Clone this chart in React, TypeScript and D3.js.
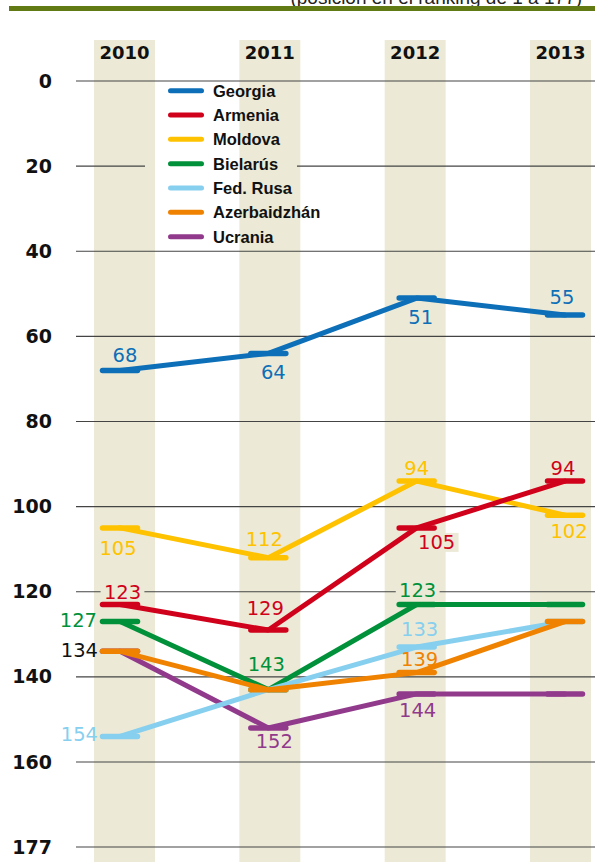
import React from 'react';
import * as d3 from 'd3';

const years = ['2010', '2011', '2012', '2013'];
const seriesNames = ['Georgia', 'Armenia', 'Moldova', 'Bielarús', 'Fed. Rusa', 'Azerbaidzhán', 'Ucrania'];
const seriesColors = ['#0d6fb8', '#d0021b', '#fec200', '#00913a', '#87cfef', '#ef8200', '#913a8c'];
const georgia = [68, 64, 51, 55];
const armenia = [123, 129, 105, 94];
const moldova = [105, 112, 94, 102];
const bielarus = [127, 143, 123, 123];
const rusia = [154, 143, 133, 127];
const azerbaidzhan = [134, 143, 139, 127];
const ucrania = [134, 152, 144, 144];
const seriesValues = [georgia, armenia, moldova, bielarus, rusia, azerbaidzhan, ucrania];
const drawOrder = [0, 2, 1, 6, 3, 4, 5];
const tickValues = [0, 20, 40, 60, 80, 100, 120, 140, 160, 177];
const tickLabels = ['0', '20', '40', '60', '80', '100', '120', '140', '160', '177'];
const subtitle = '(posición en el ranking de 1 a 177)';

// label placement: series index, year index, offsets from the point
const valueLabels = [
  { s: 0, i: 0, dx: 5, dy: -8 },
  { s: 0, i: 1, dx: 5, dy: 26 },
  { s: 0, i: 2, dx: 4, dy: 26 },
  { s: 0, i: 3, dx: -3, dy: -11 },
  { s: 1, i: 0, dx: 2.5, dy: -5.5 },
  { s: 1, i: 1, dx: -3, dy: -15 },
  { s: 1, i: 2, dx: 20, dy: 21 },
  { s: 1, i: 3, dx: -2, dy: -6 },
  { s: 2, i: 0, dx: -2, dy: 27 },
  { s: 2, i: 1, dx: -4, dy: -12 },
  { s: 2, i: 2, dx: 0, dy: -6 },
  { s: 2, i: 3, dx: 4, dy: 23 },
  { s: 3, i: 0, dx: -23, dy: 5, anchor: 'end' },
  { s: 3, i: 1, dx: -2, dy: -19 },
  { s: 3, i: 2, dx: 1, dy: -7.5 },
  { s: 4, i: 0, dx: -22, dy: 5, anchor: 'end' },
  { s: 4, i: 2, dx: 3, dy: -11 },
  { s: 5, i: 2, dx: 3, dy: -6.5 },
  { s: 5, i: 0, dx: -22, dy: 5.5, anchor: 'end', color: '#111111' },
  { s: 6, i: 1, dx: 6, dy: 20 },
  { s: 6, i: 2, dx: 1, dy: 23 },
];

const W = 595;
const H = 862;
const COL_FILL = '#ecead6';
const DIGIT_FONT = '"DejaVu Sans", sans-serif';
const TEXT_FONT = '"Liberation Sans", Arial, sans-serif';

export default function App() {
  const y = d3.scaleLinear().domain([0, 160, 177]).range([81, 762, 847]);
  const xCol = d3.scalePoint<string>().domain(years).range([124.5, 560.5]);
  const xPt = d3.scalePoint<string>().domain(years).range([120, 565]);
  const colHalf = 30.5;
  const barHalf = 17.5;
  const gridLeft = 76;

  const legendX = 168;
  const legendY0 = 90.7;
  const legendStep = 24.33;
  const legendBox = {
    x0: legendX - 23,
    x1: legendX + 129,
    y0: legendY0 - 8,
    y1: legendY0 + legendStep * (seriesNames.length - 1) + 12,
  };

  const line = d3
    .line<number>()
    .x((_, i) => xPt(years[i]) as number)
    .y((v) => y(v));

  const inColumn = (cx: number) =>
    years.some((yr) => Math.abs(cx - (xCol(yr) as number)) < colHalf);

  return (
    <svg
      width={W}
      height={H}
      style={{ position: 'absolute', left: 0, top: 0, display: 'block', background: '#fff' }}
    >
      {/* title fragment and top rule */}
      <text x={582} y={4} textAnchor="end" fontFamily={TEXT_FONT} fontSize={19} fill="#222">
        {subtitle}
      </text>
      <rect x={9} y={6} width={W - 9} height={5} fill="#627a14" />

      {/* year columns */}
      {years.map((yr) => (
        <g key={yr}>
          <rect x={(xCol(yr) as number) - colHalf} y={40} width={colHalf * 2} height={H - 40} fill={COL_FILL} />
          <text
            x={xCol(yr) as number}
            y={59}
            textAnchor="middle"
            fontFamily={DIGIT_FONT}
            fontWeight="bold"
            fontSize={18}
            fill="#111"
          >
            {yr}
          </text>
        </g>
      ))}

      {/* grid lines and axis labels */}
      {tickValues.map((t, k) => {
        const yy = y(t);
        const broken = yy > legendBox.y0 && yy < legendBox.y1;
        return (
          <g key={t}>
            {broken ? (
              <>
                <line x1={gridLeft} x2={legendBox.x0} y1={yy} y2={yy} stroke="#444" strokeWidth={1.2} />
                <line x1={legendBox.x1} x2={W} y1={yy} y2={yy} stroke="#444" strokeWidth={1.2} />
              </>
            ) : (
              <line x1={gridLeft} x2={W} y1={yy} y2={yy} stroke="#444" strokeWidth={1.2} />
            )}
            <text
              x={52}
              y={yy + 6.5}
              textAnchor="end"
              fontFamily={DIGIT_FONT}
              fontWeight="bold"
              fontSize={19}
              fill="#111"
            >
              {tickLabels[k]}
            </text>
          </g>
        );
      })}

      {/* knockouts behind labels sitting in columns */}
      {valueLabels.map((l, k) => {
        const px = (xPt(years[l.i]) as number) + l.dx;
        const py = y(seriesValues[l.s][l.i]) + l.dy;
        if (l.anchor === 'end' || !inColumn(px)) return null;
        const txt = String(seriesValues[l.s][l.i]);
        const w = txt.length * 12.6 + 6;
        return <rect key={k} x={px - w / 2} y={py - 16} width={w} height={19} fill={COL_FILL} />;
      })}

      {/* series */}
      {drawOrder.map((s) => (
        <g key={seriesNames[s]}>
          <path
            d={line(seriesValues[s]) || ''}
            fill="none"
            stroke={seriesColors[s]}
            strokeWidth={5}
            strokeLinejoin="round"
            strokeLinecap="round"
          />
          {seriesValues[s].map((v, i) => (
            <line
              key={i}
              x1={(xPt(years[i]) as number) - barHalf}
              x2={(xPt(years[i]) as number) + barHalf}
              y1={y(v)}
              y2={y(v)}
              stroke={seriesColors[s]}
              strokeWidth={5.5}
              strokeLinecap="round"
            />
          ))}
        </g>
      ))}

      {/* value labels */}
      {valueLabels.map((l, k) => (
        <text
          key={k}
          x={(xPt(years[l.i]) as number) + l.dx}
          y={y(seriesValues[l.s][l.i]) + l.dy}
          textAnchor={l.anchor === 'end' ? 'end' : 'middle'}
          fontFamily={DIGIT_FONT}
          fontSize={19.5}
          fill={l.color || seriesColors[l.s]}
        >
          {seriesValues[l.s][l.i]}
        </text>
      ))}

      {/* legend */}
      {seriesNames.map((name, i) => {
        const ly = legendY0 + i * legendStep;
        return (
          <g key={name}>
            <line
              x1={legendX + 2.5}
              x2={legendX + 33.5}
              y1={ly}
              y2={ly}
              stroke={seriesColors[i]}
              strokeWidth={5}
              strokeLinecap="round"
            />
            <text
              x={legendX + 45}
              y={ly + 6}
              fontFamily={TEXT_FONT}
              fontWeight="bold"
              fontSize={16.5}
              fill="#111"
            >
              {name}
            </text>
          </g>
        );
      })}
    </svg>
  );
}
